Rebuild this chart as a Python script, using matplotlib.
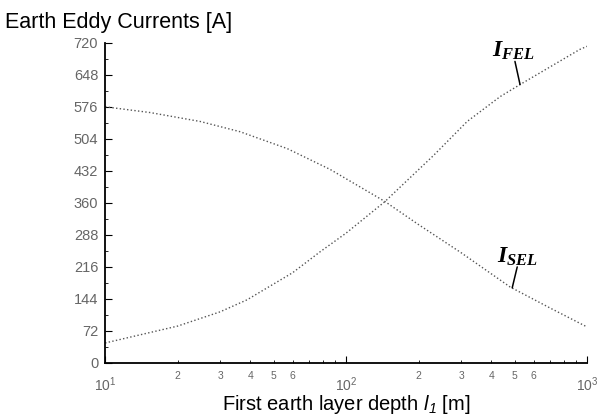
import matplotlib
matplotlib.use('Agg')
import matplotlib.pyplot as plt
from matplotlib.ticker import FixedLocator, MultipleLocator, NullFormatter

plt.rcParams['font.family'] = ['Liberation Sans', 'DejaVu Sans']
plt.rcParams['mathtext.fontset'] = 'custom'
plt.rcParams['mathtext.it'] = 'Liberation Serif:italic:bold'
plt.rcParams['mathtext.rm'] = 'Liberation Sans'
plt.rcParams['mathtext.sf'] = 'Liberation Sans:italic'

depth_sel = [10, 15.4, 24.8, 36.3, 57, 86, 145, 200, 300, 479, 700, 1000]
current_sel = [576, 563, 543, 520, 482, 435, 363, 311, 248, 171, 124, 81]

depth_fel = [10, 20, 30, 38.8, 60, 78, 100, 145, 168, 230, 318, 436, 527, 933, 1000]
current_fel = [45, 83, 115, 142, 203, 250, 292, 363, 396, 466, 543, 599, 626, 705, 712]

y_ticks = [0, 72, 144, 216, 288, 360, 432, 504, 576, 648, 720]
x_major = [10, 100, 1000]
x_major_labels = ['$\\mathrm{10^1}$', '$\\mathrm{10^2}$', '$\\mathrm{10^3}$']
x_minor = [20, 30, 40, 50, 60, 200, 300, 400, 500, 600]
x_minor_labels = ['2', '3', '4', '5', '6', '2', '3', '4', '5', '6']

figure = plt.figure(figsize=(6.04, 4.17), dpi=100)
axes = figure.add_axes([0.174, 0.1295, 0.798, 0.768])

axes.plot(depth_sel, current_sel, linestyle=':', color='#555555', linewidth=1.0)
axes.plot(depth_fel, current_fel, linestyle=':', color='#555555', linewidth=1.0)

axes.set_xscale('log')
axes.set_xlim(10, 1000)
axes.set_ylim(0, 720)

axes.yaxis.set_major_locator(FixedLocator(y_ticks))
axes.yaxis.set_minor_locator(MultipleLocator(36))
axes.xaxis.set_major_locator(FixedLocator(x_major))
axes.set_xticklabels(x_major_labels)
axes.xaxis.set_minor_locator(FixedLocator([m * d for d in (10, 100) for m in range(2, 10)]))
axes.xaxis.set_minor_formatter(NullFormatter())

for spine in ('top', 'right'):
    axes.spines[spine].set_visible(False)
axes.spines['left'].set_linewidth(1.3)
axes.spines['bottom'].set_linewidth(1.3)

axes.tick_params(axis='both', which='major', direction='in', length=5, width=0.8,
                 labelsize=10.5, labelcolor='#666666')
axes.tick_params(axis='x', which='major', labelsize=10)
axes.tick_params(axis='both', which='minor', direction='in', length=2.5, width=0.6)
axes.tick_params(axis='x', which='major', pad=9)
axes.tick_params(axis='y', which='major', pad=5)

for pos, lab in zip(x_minor, x_minor_labels):
    axes.text(pos, -17, lab, ha='center', va='top', fontsize=7.5, color='#666666')

# curve labels with short leader lines
axes.annotate('', xy=(527, 626), xytext=(502, 678),
              arrowprops=dict(arrowstyle='-', color='black', lw=1.1, shrinkA=0, shrinkB=0))
axes.text(404, 676, '$I_{FEL}$', fontsize=17, ha='left', va='bottom')
axes.annotate('', xy=(489, 169), xytext=(513, 216),
              arrowprops=dict(arrowstyle='-', color='black', lw=1.1, shrinkA=0, shrinkB=0))
axes.text(424, 214, '$I_{SEL}$', fontsize=17, ha='left', va='bottom')

figure.text(0.008, 0.972, 'Earth Eddy Currents [A]', fontsize=15.5, ha='left', va='top')
axes.set_xlabel('First earth layer depth $\\mathsf{l_1}$ [m]', fontsize=14.5)
axes.xaxis.label.set_va('center')
axes.xaxis.set_label_coords(0.5, -0.13)

figure.savefig('out.png', dpi=100)
